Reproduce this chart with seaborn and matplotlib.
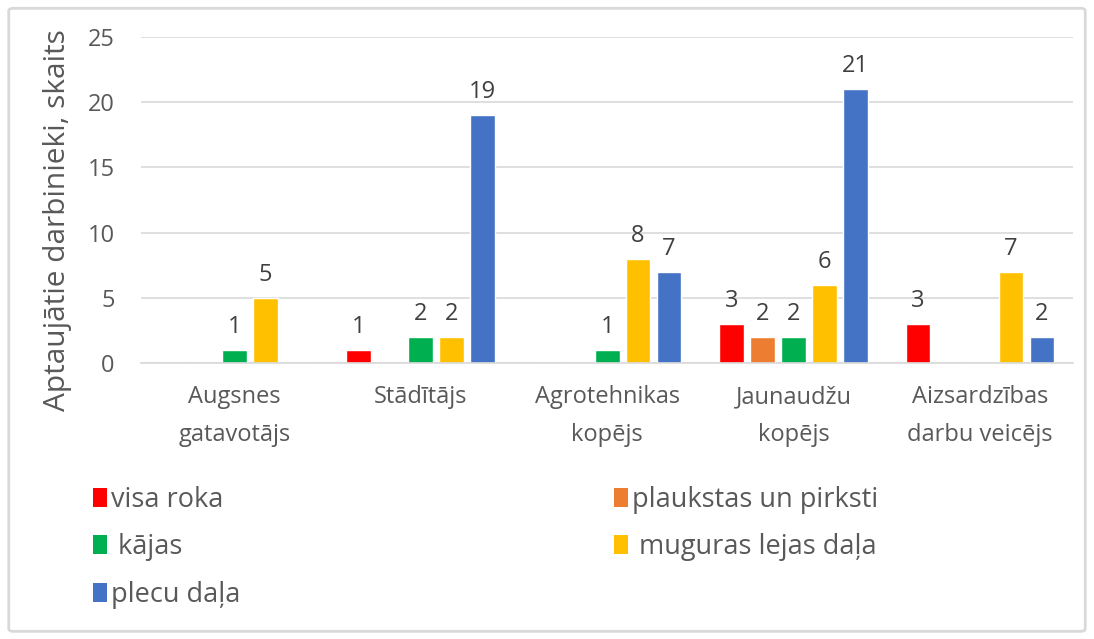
import numpy as np
import pandas as pd
import matplotlib.pyplot as plt
import seaborn as sns
from matplotlib.patches import Patch, FancyBboxPatch

# dati
kategorijas = ["Augsnes\ngatavotājs", "Stādītājs", "Agrotehnikas\nkopējs",
               "Jaunaudžu\nkopējs", "Aizsardzības\ndarbu veicējs"]
serijas = ["visa roka", "plaukstas un pirksti", " kājas", " muguras lejas daļa", "plecu daļa"]
visa_roka = [0, 1, 0, 3, 3]
plaukstas = [0, 0, 0, 2, 0]
kajas = [1, 2, 1, 2, 0]
muguras = [5, 2, 8, 6, 7]
plecu = [0, 19, 7, 21, 2]
krasas = ["#FF0000", "#ED7D31", "#00B050", "#FFC000", "#4472C4"]

vertibas = [visa_roka, plaukstas, kajas, muguras, plecu]
rows = []
for s, vals in zip(serijas, vertibas):
    for k, v in zip(kategorijas, vals):
        rows.append({"kategorija": k, "serija": s, "skaits": v})
df = pd.DataFrame(rows)

sns.set_style("white")
plt.rcParams["font.family"] = ["Open Sans", "DejaVu Sans"]

fig = plt.figure(figsize=(10.94, 6.39), dpi=100)
ax = fig.add_axes([0.129, 0.432, 0.852, 0.510])

sns.barplot(data=df, x="kategorija", y="skaits", hue="serija", hue_order=serijas,
            palette=krasas, width=0.83, gap=0.2, legend=False, ax=ax, saturation=1)

for cont, vals in zip(ax.containers, vertibas):
    ax.bar_label(cont, labels=["" if v == 0 else str(v) for v in vals],
                 padding=8, fontsize=17, color="#404040")

ax.set_ylim(0, 25)
ax.set_yticks([0, 5, 10, 15, 20, 25])
ax.grid(axis="y", color="#D9D9D9", linewidth=1.2)
ax.set_axisbelow(True)
for sp in ["top", "right", "left"]:
    ax.spines[sp].set_visible(False)
ax.spines["bottom"].set_color("#D9D9D9")
ax.spines["bottom"].set_linewidth(1.2)
ax.tick_params(axis="y", length=0, labelsize=17, labelcolor="#595959", pad=19)
ax.tick_params(axis="x", length=0, labelsize=17, labelcolor="#595959", pad=16)
for t in ax.get_xticklabels():
    t.set_linespacing(1.75)
ax.set_xlabel("")
ax.set_ylabel("Aptaujātie darbinieki, skaits", fontsize=21.5, color="#595959")
ax.yaxis.set_label_coords(-0.074, 0.439)

# legenda pa rindām
seciba = [0, 2, 4, 1, 3]
handles = [Patch(facecolor=krasas[i], edgecolor="none") for i in seciba]
labels = [serijas[i] for i in seciba]
fig.legend(handles, labels, loc="upper left", bbox_to_anchor=(0.063, 0.278), ncol=2,
           frameon=False, fontsize=19.5, labelcolor="#595959", handlelength=0.5,
           handleheight=0.7, handletextpad=0.15, columnspacing=13.8, labelspacing=0.72)

# rāmis
fig.patches.append(FancyBboxPatch((0.008, 0.012), 0.984, 0.975, boxstyle="round,pad=0,rounding_size=0.004",
                                  transform=fig.transFigure, facecolor="none",
                                  edgecolor="#D9D9D9", linewidth=2))

fig.savefig("out.png", dpi=100)
